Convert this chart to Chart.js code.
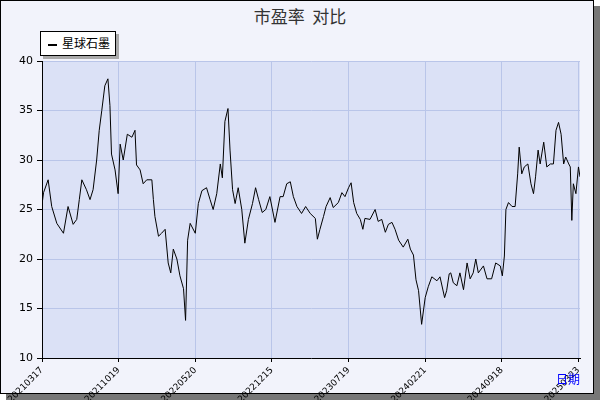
<!DOCTYPE html>
<html><head><meta charset="utf-8">
<script src="https://cdn.jsdelivr.net/npm/chart.js@4"></script>
<style>
body{margin:0;width:600px;height:400px;overflow:hidden;background:#fff;font-family:"DejaVu Sans",sans-serif}
#frame{position:absolute;left:0;top:0;width:592px;height:392px;border:1px solid #000;background:#f2f3fb;box-shadow:6px 6px 0 #777}
#title{position:absolute;left:0;width:600px;top:3px;text-align:center;font-size:17px;color:#333;font-family:"Noto Sans CJK SC",sans-serif}
#legend{position:absolute;left:40px;top:31px;width:74px;height:23px;border:1px solid #000;background:#fff;box-shadow:3px 3px 0 #aaa;font-size:12px;font-family:"Noto Sans CJK SC",sans-serif;line-height:22px}
#legend span{display:inline-block;width:9px;height:2px;background:#000;vertical-align:middle;margin:0 5px 0 7px}
#xname{position:absolute;left:556px;top:370px;color:#00f;font-size:12px;font-family:"Noto Sans CJK SC",sans-serif}
canvas{position:absolute;left:0;top:0}
</style></head><body>
<div id="frame"></div>
<div id="title">市盈率&nbsp;&nbsp;对比</div>
<div id="legend"><span></span>星球石墨</div>
<div style="position:absolute;left:0;top:0;width:600px;height:400px"><canvas id="c" width="600" height="400"></canvas></div>
<div id="xname">日期</div>
<script>
const seriesName = "星球石墨";
const tickDates = ["20210317","20211019","20220520","20221215","20230719","20240221","20240918","20250323"];
const tickStep = 150;
const dayIndex = [0,3,12,19,29,42,51,61,68,73,78,87,94,100,107,112,117,123,129,133,136,143,149,153,159,167,176,182,185,192,198,205,215,218,221,228,234,241,247,252,257,264,270,
277,281,285,290,300,306,313,322,329,335,342,349,353,358,364,368,373,378,384,391,397,404,412,418,424,431,438,446,456,466,472,479,486,492,499,508,516,525,535,
539,544,551,556,564,570,580,587,593,600,605,610,616,623,628,632,642,652,658,665,672,678,685,691,698,707,716,721,727,732,737,743,750,756,763,773,779,788,792,797,
800,805,812,818,825,832,838,844,849,854,864,871,880,888,897,901,905,908,913,920,926,931,934,939,944,951,957,962,966,971,975,982,988,995,1001,1006,1011,1016,1021,1025,1031,1034,1037,1040,1045,1050,1053];
const peValues = [25.5,26.7,28,25.3,23.6,22.6,25.3,23.5,24,26,28,27,26,27,30,33,35,37.5,38.2,35.5,30.6,29,26.6,31.6,30,32.6,32.3,33,29.5,29,27.6,28,28,26,24.3,22.3,22.6,23,19.6,18.6,21,20,18.3,
17,13.8,21.9,23.6,22.6,25.6,26.9,27.2,26,25,26.6,29.6,28.2,33.9,35.2,31,27,25.6,27.2,25,21.6,24,25.6,27.2,26,24.7,25,26.3,23.7,26.3,26.3,27.6,27.8,26.3,25.3,24.6,25.3,24.6,24.1,
22,23,24.3,25.3,26.2,25.2,25.7,26.7,26.3,27.2,27.7,25.7,24.6,24,23,24.1,24,25,23.8,24,22.7,23.5,23.7,23,21.9,21.2,22,21,20.4,17.9,16.8,13.4,16.1,17.2,18.2,17.8,18.2,16.1,16.8,18.5,
18.6,17.6,17.3,18.6,16.9,19.6,18,18.6,20,18.6,19.3,18,18,19.6,19.3,18.3,20.3,25,25.7,25.3,25.3,28.6,31.3,28.6,29.3,29.6,27.6,26.6,28.3,31,29.6,31.8,29.3,29.6,29.6,33,33.8,32.6,29.6,30.3,29.6,29.3,23.9,27.6,26.6,29.3,28.3];
const pts = dayIndex.map((d,i)=>({x:d,y:peValues[i]}));
const bg = {id:'bg',beforeDraw(c){const a=c.chartArea,x=c.ctx;x.save();x.fillStyle='#dbe1f6';x.fillRect(a.left,a.top,a.right-a.left,a.bottom-a.top);x.restore();}};
new Chart(document.getElementById('c'),{
 type:'line',
 data:{datasets:[{label:seriesName,data:pts,borderColor:'#000',borderWidth:1,pointRadius:0,tension:0,fill:false}]},
 options:{responsive:false,animation:false,
  layout:{padding:{left:0,top:61,right:20,bottom:0}},
  plugins:{legend:{display:false},tooltip:{enabled:false}},
  scales:{
   x:{type:'linear',min:0,max:1053,
      afterBuildTicks(s){s.ticks=tickDates.map((_,i)=>({value:i*tickStep}));},
      afterFit(s){s.height=42;},
      ticks:{autoSkip:false,maxRotation:45,minRotation:45,color:'#000',font:{size:9,family:'DejaVu Sans'},callback:(v)=>tickDates[Math.round(v/tickStep)]},
      grid:{color:'#b9c5e9',tickColor:'#000',tickLength:4},border:{color:'#000'}},
   y:{min:10,max:40,
      afterFit(s){s.width=42;},
      ticks:{stepSize:5,color:'#000',font:{size:11,family:'DejaVu Sans'},padding:4},
      grid:{color:'#b9c5e9',tickColor:'#000',tickLength:5},border:{color:'#000'}}
  }},
 plugins:[bg]
});
</script></body></html>
